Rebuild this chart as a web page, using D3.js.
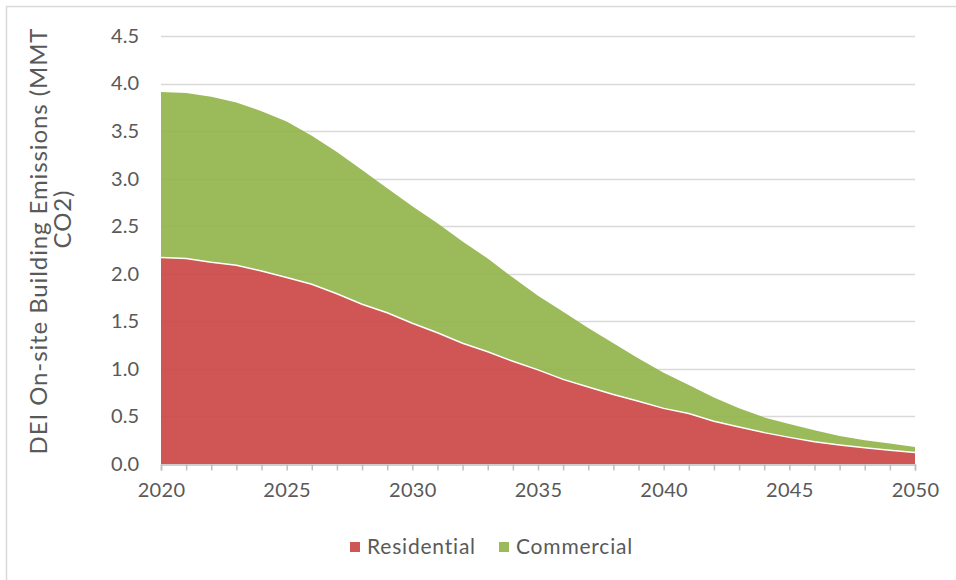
<!DOCTYPE html>
<html>
<head>
<meta charset="utf-8">
<script src="https://cdn.jsdelivr.net/npm/d3@7"></script>
<style>
  html, body { margin: 0; padding: 0; background: #fff; }
  svg { display: block; }
  text { font-family: Lato, "Open Sans", sans-serif; fill: #595959; }
</style>
</head>
<body>
<svg id="chart" width="956" height="580"></svg>
<script>
// Annual on-site building emissions, million metric tons CO2
const years = d3.range(2020, 2051);
const residential = [
  2.17, 2.16, 2.12, 2.09, 2.03, 1.96, 1.89, 1.79, 1.68, 1.59,
  1.48, 1.38, 1.27, 1.18, 1.08, 0.99, 0.89, 0.81, 0.73, 0.66,
  0.585, 0.53, 0.45, 0.39, 0.33, 0.28, 0.235, 0.20, 0.17, 0.145,
  0.12
];
const commercial = [
  1.74, 1.74, 1.74, 1.71, 1.68, 1.64, 1.56, 1.49, 1.41, 1.31,
  1.23, 1.15, 1.07, 0.98, 0.88, 0.78, 0.71, 0.62, 0.54, 0.45,
  0.375, 0.30, 0.25, 0.195, 0.16, 0.14, 0.12, 0.095, 0.08, 0.07,
  0.06
];
const seriesNames = ["Residential", "Commercial"];
const yTicks = [0, 0.5, 1, 1.5, 2, 2.5, 3, 3.5, 4, 4.5];
const xLabelYears = [2020, 2025, 2030, 2035, 2040, 2045, 2050];
const yTitleLines = ["DEI On-site Building Emissions (MMT", "CO2)"];

const colors = { Residential: "#cb4444", Commercial: "#90b347" };

const svg = d3.select("#chart");

// outer chart frame
svg.append("rect")
  .attr("x", 6.5).attr("y", 6.5)
  .attr("width", 980).attr("height", 600)
  .attr("fill", "#fff").attr("stroke", "#d9d9d9").attr("stroke-width", 1.5);

const x = d3.scaleLinear().domain([2020, 2050]).range([161, 915]);
const y = d3.scaleLinear().domain([0, 4.5]).range([464, 36]);

// horizontal gridlines
svg.append("g")
  .selectAll("line")
  .data(yTicks.filter(d => d > 0))
  .join("line")
  .attr("x1", x(2020)).attr("x2", x(2050))
  .attr("y1", d => Math.round(y(d)) + 0.5).attr("y2", d => Math.round(y(d)) + 0.5)
  .attr("stroke", "#d9d9d9").attr("stroke-width", 1.5);

// stacked areas
const table = years.map((yr, i) => ({
  year: yr,
  Residential: residential[i],
  Commercial: commercial[i]
}));
const stacked = d3.stack().keys(seriesNames)(table);

const area = d3.area()
  .x(d => x(d.data.year))
  .y0(d => y(d[0]))
  .y1(d => y(d[1]));

svg.append("g")
  .selectAll("path")
  .data(stacked)
  .join("path")
  .attr("d", area)
  .attr("fill", d => colors[d.key])
  .attr("fill-opacity", 0.9);

// white edge along the top of the residential band
const edge = d3.line()
  .x(d => x(d.data.year))
  .y(d => y(d[1]));
svg.append("path")
  .datum(stacked[0])
  .attr("d", edge)
  .attr("fill", "none")
  .attr("stroke", "#fff")
  .attr("stroke-width", 1.5);

// x axis with a tick for every year
const xAxis = d3.axisBottom(x)
  .tickValues(years)
  .tickSize(6)
  .tickFormat(d => xLabelYears.includes(d) ? String(d) : "");
const gx = svg.append("g")
  .attr("transform", `translate(0,${Math.round(y(0)) + 0.5})`)
  .call(xAxis);
gx.select(".domain").attr("stroke", "#bfbfbf").attr("stroke-width", 1.5);
gx.selectAll(".tick line").attr("stroke", "#bfbfbf").attr("stroke-width", 1.5);
gx.selectAll(".tick text")
  .attr("y", 18)
  .attr("dy", "0.71em")
  .style("font-family", "Lato, sans-serif")
  .style("font-size", "20px")
  .style("letter-spacing", "0.3px")
  .attr("fill", "#595959");

// y axis labels only
const yAxis = d3.axisLeft(y)
  .tickValues(yTicks)
  .tickSize(0)
  .tickPadding(0)
  .tickFormat(d3.format(".1f"));
const gy = svg.append("g")
  .attr("transform", "translate(139,0)")
  .call(yAxis);
gy.select(".domain").remove();
gy.selectAll(".tick text")
  .style("font-family", "Lato, sans-serif")
  .style("font-size", "20px")
  .attr("fill", "#595959");

// rotated axis title (second line sits a little higher)
const title = svg.append("text")
  .attr("transform", "translate(47,241) rotate(-90)")
  .attr("text-anchor", "middle")
  .style("font-size", "24px")
  .style("letter-spacing", "0.9px");
title.selectAll("tspan")
  .data(yTitleLines)
  .join("tspan")
  .attr("x", (d, i) => i === 0 ? 0 : 22)
  .attr("dy", (d, i) => i === 0 ? 0 : "1.0em")
  .text(d => d);

// legend
const legendItems = [
  { name: "Residential", x: 350 },
  { name: "Commercial", x: 499 }
];
const lg = svg.append("g");
lg.selectAll("rect")
  .data(legendItems)
  .join("rect")
  .attr("x", d => d.x).attr("y", 542)
  .attr("width", 10).attr("height", 10)
  .attr("fill", d => colors[d.name]).attr("fill-opacity", 0.9);
lg.selectAll("text")
  .data(legendItems)
  .join("text")
  .attr("x", d => d.x + 17).attr("y", 547)
  .attr("dy", "0.35em")
  .style("font-size", "21px")
  .style("letter-spacing", "0.8px")
  .text(d => d.name);
</script>
</body>
</html>
